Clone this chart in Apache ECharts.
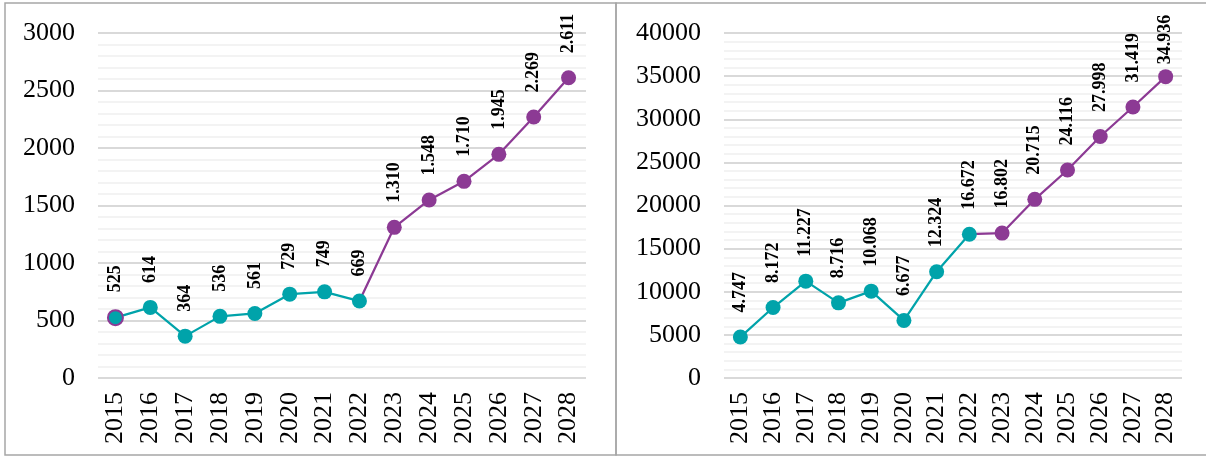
<!DOCTYPE html>
<html>
<head>
<meta charset="utf-8">
<script src="https://cdn.jsdelivr.net/npm/echarts@6/dist/echarts.min.js"></script>
<style>
html,body{margin:0;padding:0;background:#fff;}
#c{width:1206px;height:457px;}
</style>
</head>
<body>
<div id="c"></div>
<script>
var years = ['2015','2016','2017','2018','2019','2020','2021','2022','2023','2024','2025','2026','2027','2028'];
var leftValues = [525, 614, 364, 536, 561, 729, 749, 669, 1310, 1548, 1710, 1945, 2269, 2611];
var rightValues = [4747, 8172, 11227, 8716, 10068, 6677, 12324, 16672, 16802, 20715, 24116, 27998, 31419, 34936];
var splitIndex = 7; // last year of the first (teal) segment
var leftTicks = {min: 0, max: 3000, interval: 500};
var rightTicks = {min: 0, max: 40000, interval: 5000};

var TEAL = '#00A3AA';
var PURPLE = '#8C3A94';
var FONT = 'Liberation Serif';

function fmt(v) {
  return String(v).replace(/\B(?=(\d{3})+(?!\d))/g, '.');
}

function segment(values, first) {
  return values.map(function (v, i) {
    if (first) return i <= splitIndex ? v : null;
    if (i < splitIndex) return null;
    if (i === splitIndex) return {value: v, symbolSize: 0, label: {show: false}};
    return v;
  });
}

var labelCfg = {
  show: true, position: 'top', distance: 17, rotate: 90,
  align: 'left', verticalAlign: 'middle',
  fontFamily: FONT, fontWeight: 'bold', fontSize: 18, color: '#000',
  formatter: function (p) { return fmt(p.value); }
};

function seriesFor(values, axisIdx, markFirst, tightLast) {
  var teal = segment(values, true);
  var purple = segment(values, false);
  if (markFirst) {
    teal[0] = {value: values[0], itemStyle: {color: TEAL, borderColor: PURPLE, borderWidth: 2}};
  }
  if (tightLast) {
    var n = values.length - 1;
    purple[n] = {value: values[n], label: {distance: 5}};
  }
  return [
    {
      type: 'line', xAxisIndex: axisIdx, yAxisIndex: axisIdx,
      data: purple, symbol: 'circle', symbolSize: 15,
      lineStyle: {color: PURPLE, width: 2.25}, itemStyle: {color: PURPLE},
      label: labelCfg, connectNulls: false, animation: false, z: 2
    },
    {
      type: 'line', xAxisIndex: axisIdx, yAxisIndex: axisIdx,
      data: teal, symbol: 'circle', symbolSize: 15,
      lineStyle: {color: TEAL, width: 2.25}, itemStyle: {color: TEAL},
      label: labelCfg, connectNulls: false, animation: false, z: 3
    }
  ];
}

function xAxis(idx) {
  return {
    type: 'category', gridIndex: idx, data: years, boundaryGap: true,
    axisLine: {show: false}, axisTick: {show: false},
    axisLabel: {interval: 0, rotate: 90, margin: 14, fontFamily: FONT, fontSize: 26, color: '#000'}
  };
}
function yAxis(idx, t) {
  return {
    type: 'value', gridIndex: idx, min: t.min, max: t.max, interval: t.interval,
    axisLine: {show: false}, axisTick: {show: false},
    axisLabel: {margin: 23, fontFamily: FONT, fontSize: 26, color: '#000',
      formatter: function (v) { return String(v); }},
    splitLine: {show: true, lineStyle: {color: '#d9d9d9', width: 2}},
    minorTick: {show: false, splitNumber: 5},
    minorSplitLine: {show: true, lineStyle: {color: '#efefef', width: 1.5}}
  };
}

var chart = echarts.init(document.getElementById('c'), null, {renderer: 'canvas'});
chart.setOption({
  animation: false,
  backgroundColor: '#fff',
  grid: [
    {left: 98, right: 620, top: 33, bottom: 79},
    {left: 724, right: 24, top: 33, bottom: 79}
  ],
  xAxis: [xAxis(0), xAxis(1)],
  yAxis: [yAxis(0, leftTicks), yAxis(1, rightTicks)],
  graphic: [
    {type: 'rect', shape: {x: 5, y: 3, width: 611, height: 452}, style: {fill: 'none', stroke: '#a6a6a6', lineWidth: 1.5}, silent: true},
    {type: 'rect', shape: {x: 616, y: 3, width: 600, height: 452}, style: {fill: 'none', stroke: '#a6a6a6', lineWidth: 1.5}, silent: true}
  ],
  series: seriesFor(leftValues, 0, true, false).concat(seriesFor(rightValues, 1, false, true))
});
</script>
</body>
</html>
